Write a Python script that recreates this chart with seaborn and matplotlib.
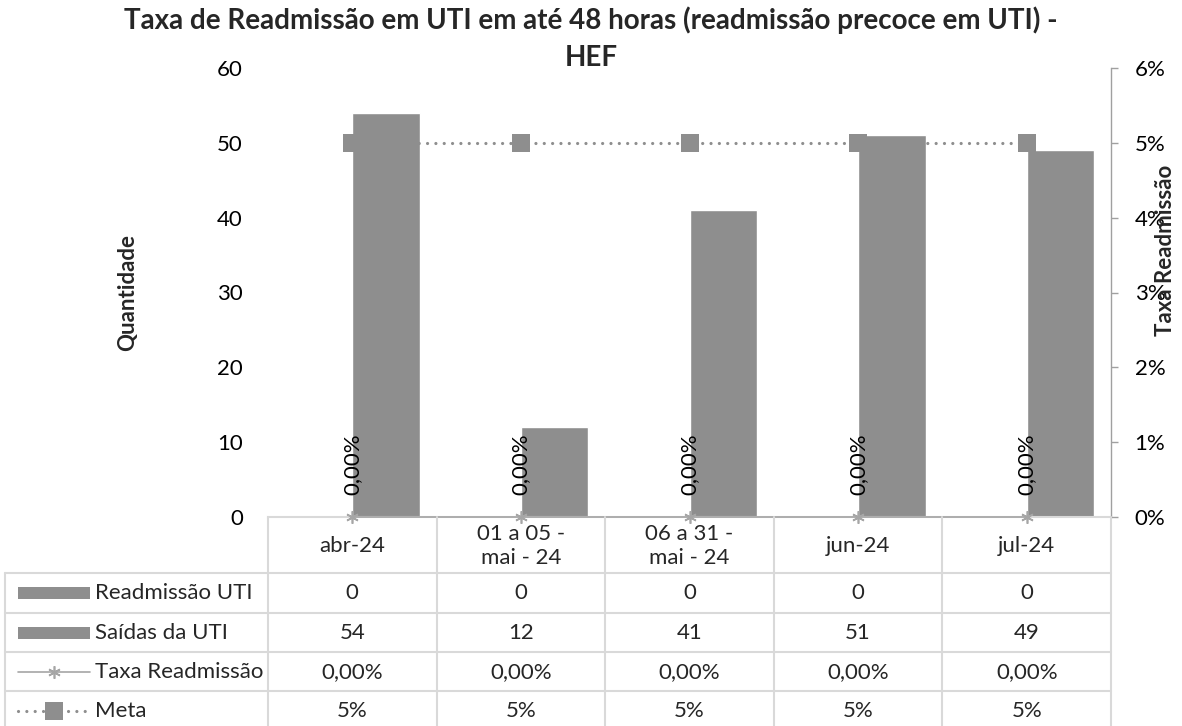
#!/usr/bin/env python3
"""
Taxa de readmissão em UTI (48h) - HEF: barras + linhas com tabela de dados.
"""

import matplotlib
matplotlib.use("Agg")
import matplotlib.pyplot as plt
import matplotlib.transforms as mtransforms
from matplotlib.lines import Line2D
from matplotlib.patches import Rectangle
from matplotlib.ticker import FuncFormatter
import seaborn as sns
import pandas as pd
import numpy as np

# Dados
categories = ["abr-24", "01 a 05 -\nmai - 24", "06 a 31 -\nmai - 24", "jun-24", "jul-24"]
readmissao = [0, 0, 0, 0, 0]
saidas = [54, 12, 41, 51, 49]
taxa = [0.0, 0.0, 0.0, 0.0, 0.0]
meta = [0.05, 0.05, 0.05, 0.05, 0.05]

series_names = ["Readmissão UTI", "Saídas da UTI", "Taxa Readmissão", "Meta"]
taxa_labels = ["0,00%", "0,00%", "0,00%", "0,00%", "0,00%"]
meta_labels = ["5%", "5%", "5%", "5%", "5%"]

BAR = "#8e8e8e"
LINE = "#a6a6a6"
GRID = "#d9d9d9"
FS = 16
DOTS = (0, (0.01, 2.6))

sns.set_theme(style="white")
plt.rcParams["font.family"] = ["Lato", "DejaVu Sans"]

W, H = 1182, 726
fig = plt.figure(figsize=(W / 100, H / 100), dpi=100)

def fx(px):
    return px / W

def fy(py):
    return 1 - py / H

# plot area (pixels)
left, right, top, bottom = 268, 1111, 68, 517
ax = fig.add_axes([fx(left), fy(bottom), fx(right) - fx(left), fy(top) - fy(bottom)])

df = pd.DataFrame({
    "cat": categories * 2,
    "serie": [series_names[0]] * len(categories) + [series_names[1]] * len(categories),
    "valor": readmissao + saidas,
})
sns.barplot(data=df, x="cat", y="valor", hue="serie", order=categories,
            hue_order=series_names[:2], palette=[BAR, BAR], width=0.8,
            saturation=1, legend=False, ax=ax)
ax.set_ylim(0, 60)
ax.set_yticks(range(0, 61, 10))
ax.set_xlim(-0.5, len(categories) - 0.5)
ax.set_xticks([])
ax.set_xlabel("")
ax.set_ylabel("")
ax.tick_params(axis="y", length=0, pad=18, labelsize=FS, colors="black")
for s in ["left", "top", "right"]:
    ax.spines[s].set_visible(False)
ax.spines["bottom"].set_color(GRID)
ax.spines["bottom"].set_linewidth(1.5)

# eixo secundario
ax2 = ax.twinx()
pos = np.arange(len(categories))
sns.lineplot(x=pos, y=meta, ax=ax2, color=BAR, linestyle=DOTS, linewidth=2.3,
             marker="s", markersize=12.5, markeredgewidth=0, dash_capstyle="round")
sns.lineplot(x=pos, y=taxa, ax=ax2, color=LINE, linewidth=1.2,
             marker=(6, 2, 0), markersize=9, markeredgecolor=LINE,
             markeredgewidth=1.2, clip_on=False)
ax2.set_ylim(0, 0.06)
ax2.set_yticks(np.arange(0, 0.061, 0.01))
ax2.yaxis.set_major_formatter(FuncFormatter(lambda v, p: f"{v * 100:.0f}%"))
ax2.set_xlim(-0.5, len(categories) - 0.5)
ax2.tick_params(axis="y", length=5, width=1, color="#a0a0a0", pad=12,
                labelsize=FS, labelcolor="black")
for s in ["left", "top", "bottom"]:
    ax2.spines[s].set_visible(False)
ax2.spines["right"].set_color("#a0a0a0")
ax2.spines["right"].set_linewidth(1)

for i, (v, lab) in enumerate(zip(taxa, taxa_labels)):
    ax2.annotate(lab, (i, v), xytext=(0, 16), textcoords="offset points",
                 rotation=90, ha="center", va="bottom", fontsize=FS, color="black")

# titulos
TFS = 20
fig.text(0.5, fy(20), "Taxa de Readmissão em UTI em até 48 horas (readmissão precoce em UTI) -",
         ha="center", va="center", fontsize=TFS, fontweight="bold")
fig.text(0.5, fy(58), "HEF", ha="center", va="center", fontsize=TFS, fontweight="bold")
fig.text(fx(128), fy(292), "Quantidade", rotation=90, ha="center", va="center",
         fontsize=FS, fontweight="bold")
fig.text(fx(1166), fy(250), "Taxa Readmissão", rotation=90, ha="center", va="center",
         fontsize=FS, fontweight="bold")

# tabela de dados
tr = mtransforms.blended_transform_factory(ax.transData, fig.transFigure)
row_lines = [573, 613, 652, 691]
row_centers = [593, 633, 672, 711]

for py in row_lines:
    fig.add_artist(Line2D([fx(5), fx(right)], [fy(py), fy(py)], color=GRID, lw=1.5))
fig.add_artist(Line2D([fx(5), fx(5)], [fy(573), 0], color=GRID, lw=1.5))
for b in np.arange(-0.5, len(categories), 1.0):
    fig.add_artist(Line2D([b, b], [fy(bottom), 0], color=GRID, lw=1.5, transform=tr))

for i, cat in enumerate(categories):
    fig.text(i, fy(546), cat, transform=tr, ha="center", va="center", fontsize=FS,
             linespacing=1.25)

rows = [
    [str(v) for v in readmissao],
    [str(v) for v in saidas],
    taxa_labels,
    meta_labels,
]
for r, (vals, py) in enumerate(zip(rows, row_centers)):
    for i, val in enumerate(vals):
        fig.text(i, fy(py), val, transform=tr, ha="center", va="center", fontsize=FS)
    fig.text(fx(95), fy(py), series_names[r], ha="left", va="center", fontsize=FS)

# chaves da legenda
for py in row_centers[:2]:
    fig.add_artist(Rectangle((fx(18), fy(py + 6)), fx(90) - fx(18), 12 / H,
                             transform=fig.transFigure, color=BAR, lw=0))
py = row_centers[2]
fig.add_artist(Line2D([fx(18), fx(90)], [fy(py), fy(py)], color=LINE, lw=1.2))
fig.add_artist(Line2D([fx(54)], [fy(py)], color=LINE, marker=(6, 2, 0), markersize=9,
                      markeredgewidth=1.2, markeredgecolor=LINE))
py = row_centers[3]
fig.add_artist(Line2D([fx(18), fx(90)], [fy(py), fy(py)], color=BAR, lw=2.3,
                      linestyle=DOTS, dash_capstyle="round"))
fig.add_artist(Line2D([fx(54)], [fy(py)], color=BAR, marker="s", markersize=12.5,
                      markeredgewidth=0))

fig.savefig("out.png", dpi=100)
